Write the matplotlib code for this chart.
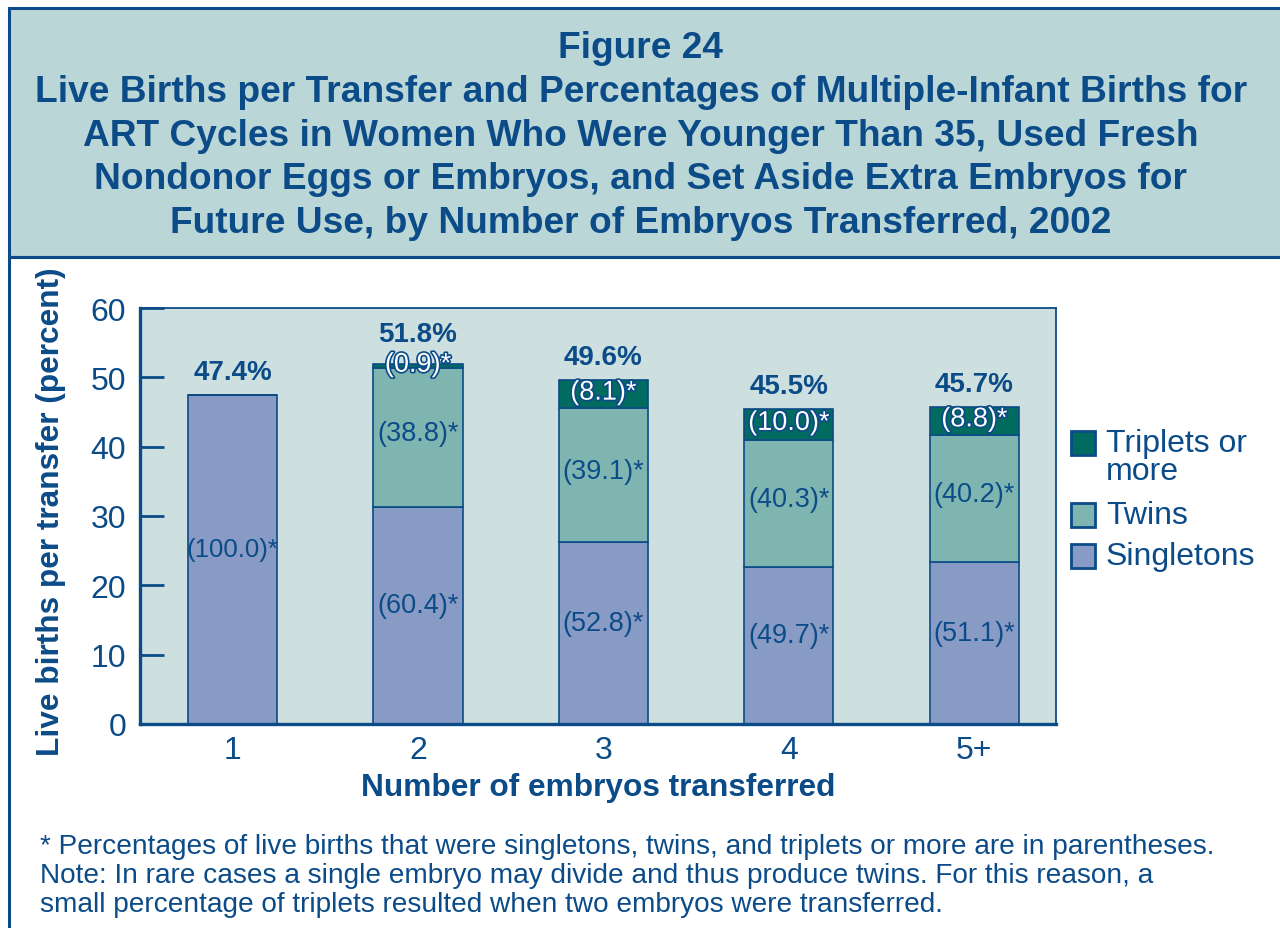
import matplotlib
matplotlib.use("Agg")
import matplotlib.pyplot as plt
import matplotlib.patches as mpatches
import matplotlib.patheffects as pe

# ---------------------------------------------------------------------------
# Data
# ---------------------------------------------------------------------------
categories = ["1", "2", "3", "4", "5+"]
totals = [47.4, 51.8, 49.6, 45.5, 45.7]
pct_singletons = [100.0, 60.4, 52.8, 49.7, 51.1]
pct_twins = [0.0, 38.8, 39.1, 40.3, 40.2]
pct_triplets = [0.0, 0.9, 8.1, 10.0, 8.8]

# ---------------------------------------------------------------------------
# Style
# ---------------------------------------------------------------------------
BLUE = "#0b4b88"
TITLE_BG = "#bad6d6"
AX_BG = "#cddfdf"
C_SING = "#879bc5"
C_TWIN = "#7fb5b1"
C_TRIP = "#006b5e"
plt.rcParams["font.family"] = ["Liberation Sans", "DejaVu Sans"]

W, H = 1280, 929
fig = plt.figure(figsize=(W / 100, H / 100), dpi=100)
fig.patch.set_facecolor("white")


def fx(px):
    return px / W


def fy(py):
    return 1 - py / H


# outer frame + title band
fig.patches.append(mpatches.Rectangle((fx(9), fy(258)), fx(1290 - 9), fy(9) - fy(258),
                                      transform=fig.transFigure, facecolor=TITLE_BG,
                                      edgecolor=BLUE, linewidth=2.2, zorder=0))
fig.patches.append(mpatches.Rectangle((fx(9), fy(960)), fx(1290 - 9), fy(258) - fy(960),
                                      transform=fig.transFigure, facecolor="none",
                                      edgecolor=BLUE, linewidth=2.2, zorder=0))

title = ("Figure 24\n"
         "Live Births per Transfer and Percentages of Multiple-Infant Births for\n"
         "ART Cycles in Women Who Were Younger Than 35, Used Fresh\n"
         "Nondonor Eggs or Embryos, and Set Aside Extra Embryos for\n"
         "Future Use, by Number of Embryos Transferred, 2002")
fig.text(fx(641), fy(136), title, ha="center", va="center", fontsize=26.7,
         fontweight="bold", color=BLUE, linespacing=1.33)

# ---------------------------------------------------------------------------
# Axes
# ---------------------------------------------------------------------------
ax = fig.add_axes([fx(140), fy(725), fx(1056 - 140), fy(309) - fy(725)])
ax.set_facecolor(AX_BG)
x = list(range(len(categories)))
bw = 0.48

sing = [t * p / 100 for t, p in zip(totals, pct_singletons)]
twin = [t * p / 100 for t, p in zip(totals, pct_twins)]
trip = [t * p / 100 for t, p in zip(totals, pct_triplets)]
base_trip = [a + b for a, b in zip(sing, twin)]

ax.bar(x, sing, bw, color=C_SING, edgecolor=BLUE, linewidth=1.2, zorder=2)
ax.bar(x, twin, bw, bottom=sing, color=C_TWIN, edgecolor=BLUE, linewidth=1.2, zorder=2)
ax.bar(x, trip, bw, bottom=base_trip, color=C_TRIP, edgecolor=BLUE, linewidth=1.2, zorder=2)

outline = [pe.withStroke(linewidth=2.4, foreground=BLUE)]
for i in x:
    ax.text(i, sing[i] / 2 + 1.5, f"({pct_singletons[i]:.1f})*", ha="center", va="center",
            fontsize=19.5 if pct_singletons[i] < 100 else 18.5, color=BLUE, zorder=4)
    if pct_twins[i] > 0:
        ax.text(i, sing[i] + twin[i] / 2 + 0.6, f"({pct_twins[i]:.1f})*", ha="center",
                va="center", fontsize=19.5, color=BLUE, zorder=4)
    if pct_triplets[i] > 0:
        ax.text(i, base_trip[i] + trip[i] / 2 + 0.2, f"({pct_triplets[i]:.1f})*", ha="center",
                va="center", fontsize=19.5, color="white", path_effects=outline, zorder=4)
    bump = 4.4 if 0 < pct_triplets[i] < 2 else 3.3
    ax.text(i, totals[i] + bump, f"{totals[i]:.1f}%", ha="center", va="center",
            fontsize=20, fontweight="bold", color=BLUE, zorder=4)

ax.set_xlim(-0.499, 4.44)
ax.set_ylim(0, 60)
ax.set_yticks(range(0, 61, 10))
ax.set_xticks(x)
ax.set_xticklabels(categories)
ax.tick_params(axis="y", direction="in", length=17, width=2, color=BLUE,
               labelsize=23, labelcolor=BLUE, pad=10)
ax.tick_params(axis="x", length=0, labelsize=23, labelcolor=BLUE, pad=8)
for side in ["left", "bottom"]:
    ax.spines[side].set_color(BLUE)
    ax.spines[side].set_linewidth(2.4)
for side in ["top", "right"]:
    ax.spines[side].set_color(BLUE)
    ax.spines[side].set_linewidth(1.3)

ax.set_xlabel("Number of embryos transferred", fontsize=22.8, fontweight="bold",
              color=BLUE, labelpad=5)
fig.text(fx(51), fy(512), "Live births per transfer (percent)", rotation=90,
         ha="center", va="center", fontsize=22.8, fontweight="bold", color=BLUE)

# ---------------------------------------------------------------------------
# Legend (manual)
# ---------------------------------------------------------------------------
legend_items = [(C_TRIP, "Triplets or\nmore", 444, 458),
                (C_TWIN, "Twins", 516, 516),
                (C_SING, "Singletons", 557, 557)]
for color, label, py, ty in legend_items:
    fig.patches.append(mpatches.Rectangle((fx(1071), fy(py + 12)), fx(24), fy(py - 12) - fy(py + 12),
                                          transform=fig.transFigure, facecolor=color,
                                          edgecolor=BLUE, linewidth=2))
    fig.text(fx(1106), fy(ty), label, ha="left", va="center", fontsize=23,
             color=BLUE, linespacing=0.92)

# ---------------------------------------------------------------------------
# Footnote
# ---------------------------------------------------------------------------
note = ("* Percentages of live births that were singletons, twins, and triplets or more are in parentheses.\n"
        "Note: In rare cases a single embryo may divide and thus produce twins. For this reason, a\n"
        "small percentage of triplets resulted when two embryos were transferred.")
fig.text(fx(40), fy(876), note, ha="left", va="center", fontsize=20.2, color=BLUE,
         linespacing=1.17)

fig.savefig("out.png", dpi=100, facecolor=fig.get_facecolor())
